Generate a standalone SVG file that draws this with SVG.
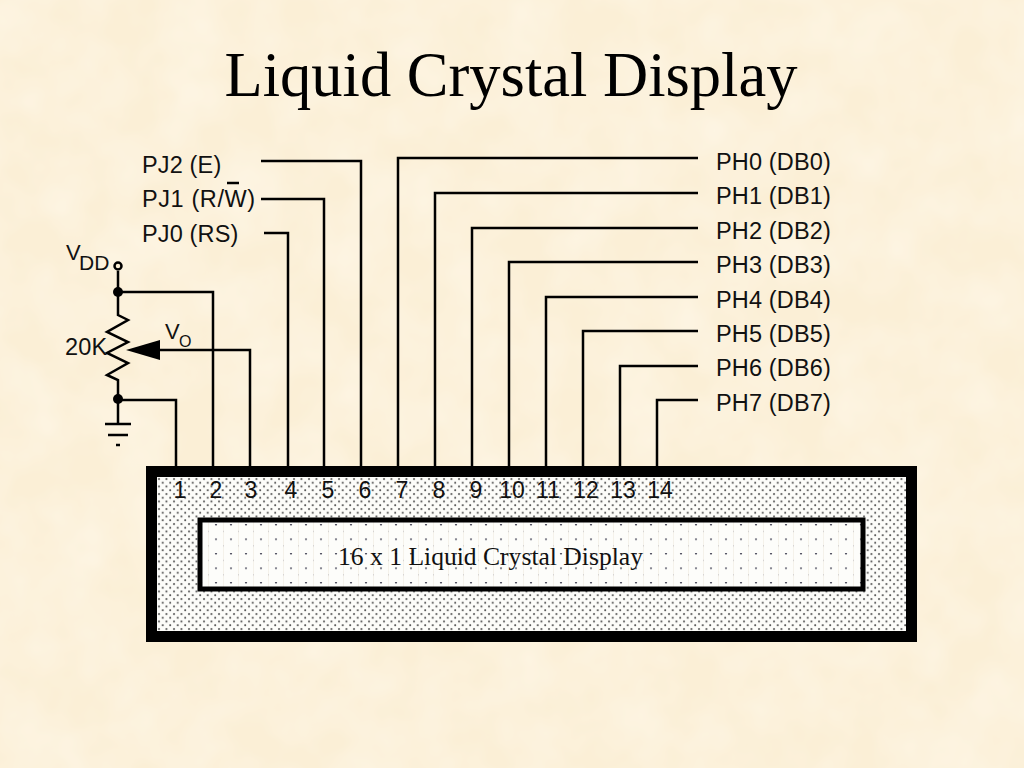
<svg xmlns="http://www.w3.org/2000/svg" width="1024" height="768" viewBox="0 0 1024 768">
<style>
.w{fill:none;stroke:#000;stroke-width:2.5}
.s{font-family:"Liberation Sans",Arial,sans-serif;font-size:23.5px;letter-spacing:.15px;fill:#111}
.n{font-family:"Liberation Sans",Arial,sans-serif;font-size:23px;fill:#111;text-anchor:middle}
</style>
<defs>
<filter id="paper" x="0" y="0" width="100%" height="100%">
<feTurbulence type="fractalNoise" baseFrequency="0.018" numOctaves="3" seed="4"/>
<feColorMatrix values="0 0 0 0 1  0 0 0 0 0.95  0 0 0 0 0.85  0.9 0 0 0 -0.25"/>
</filter>
<pattern id="d1" width="7.5" height="7.5" patternUnits="userSpaceOnUse" x="157" y="477">
<rect width="7.5" height="7.5" fill="#fcfcf9"/>
<circle cx="2" cy="2" r="1" fill="#555"/>
<circle cx="5.750" cy="5.750" r="1" fill="#555"/>
</pattern>
<pattern id="d2" width="15" height="14.500" patternUnits="userSpaceOnUse" x="201" y="524">
<rect width="15" height="14.500" fill="#fdfdfa"/>
<circle cx="15" cy="0.500" r="1.1" fill="#556"/>
<circle cx="0" cy="0.500" r="1.1" fill="#556"/>
<rect x="7.200" y="0" width="0.6" height="14.500" fill="#f0ece0"/>
<circle cx="7.500" cy="7.500" r="0.4" fill="#889"/>
</pattern>
</defs>
<rect width="1024" height="768" fill="#fbefd6"/>
<rect width="1024" height="768" filter="url(#paper)"/>
<g id="title"><text x="511" y="96" text-anchor="middle" font-family="Liberation Serif,Times New Roman,serif" font-size="62.500" fill="#000">Liquid Crystal Display</text></g>
<g id="connectors">
<path class="w" d="M261 161H361V467M261 199H324V467M264 233H288V467M698 158H398V467M698 193H435V467M698 228H472V467M698 262H509V467M698 297H546V467M698 331H583V467M698 366H620V467M698 400H657V467"/>
<path class="w" d="M118 271V315L128 320L107 332L128 342L107 353L128 363L107 375L118 380V423M118 292H213V467M118 400H176V467M158 350H250V467"/>
<path class="w" d="M105 424H131M108 435H128M116 445H120"/>
<circle cx="118" cy="292" r="5"/><circle cx="118" cy="399" r="5"/>
<circle cx="118" cy="266" r="3.500" fill="#fbefd6" stroke="#000" stroke-width="2.500"/>
<polygon points="126,350 160,340 160,360"/>
<path d="M227 183H239" stroke="#000" stroke-width="2.500"/>
</g>
<g id="labels-left">
<text class="s" x="142" y="173">PJ2 (E)</text>
<text class="s" x="142" y="207" style="letter-spacing:.6px">PJ1 (R/W)</text>
<text class="s" x="142" y="242">PJ0 (RS)</text>
<text class="s" x="66" y="260" style="font-size:22px">V</text><text class="s" x="79" y="270" style="font-size:21px">DD</text>
<text class="s" x="65" y="355">20K</text>
<text class="s" x="165" y="339" style="font-size:22px">V</text><text class="s" x="179" y="347" style="font-size:16px">O</text>
</g>
<g id="labels-right">
<text class="s" x="716" y="170">PH0 (DB0)</text>
<text class="s" x="716" y="204">PH1 (DB1)</text>
<text class="s" x="716" y="239">PH2 (DB2)</text>
<text class="s" x="716" y="273">PH3 (DB3)</text>
<text class="s" x="716" y="308">PH4 (DB4)</text>
<text class="s" x="716" y="342">PH5 (DB5)</text>
<text class="s" x="716" y="376">PH6 (DB6)</text>
<text class="s" x="716" y="411">PH7 (DB7)</text>
</g>
<g id="lcd">
<rect x="151.500" y="471.500" width="760" height="165" fill="url(#d1)" stroke="#000" stroke-width="11"/>
<rect x="200" y="520" width="663" height="69" fill="url(#d2)" stroke="#000" stroke-width="5"/>
<text x="490.500" y="565" text-anchor="middle" font-family="Liberation Serif,Times New Roman,serif" font-size="25.600" fill="#111">16 x 1 Liquid Crystal Display</text>
<text class="n" x="180" y="498">1</text><text class="n" x="216" y="498">2</text><text class="n" x="251" y="498">3</text><text class="n" x="291" y="498">4</text><text class="n" x="328" y="498">5</text><text class="n" x="365" y="498">6</text><text class="n" x="402" y="498">7</text><text class="n" x="439" y="498">8</text><text class="n" x="476" y="498">9</text><text class="n" x="512" y="498">10</text><text class="n" x="548" y="498">11</text><text class="n" x="586" y="498">12</text><text class="n" x="623" y="498">13</text><text class="n" x="660" y="498">14</text>
</g>
</svg>
